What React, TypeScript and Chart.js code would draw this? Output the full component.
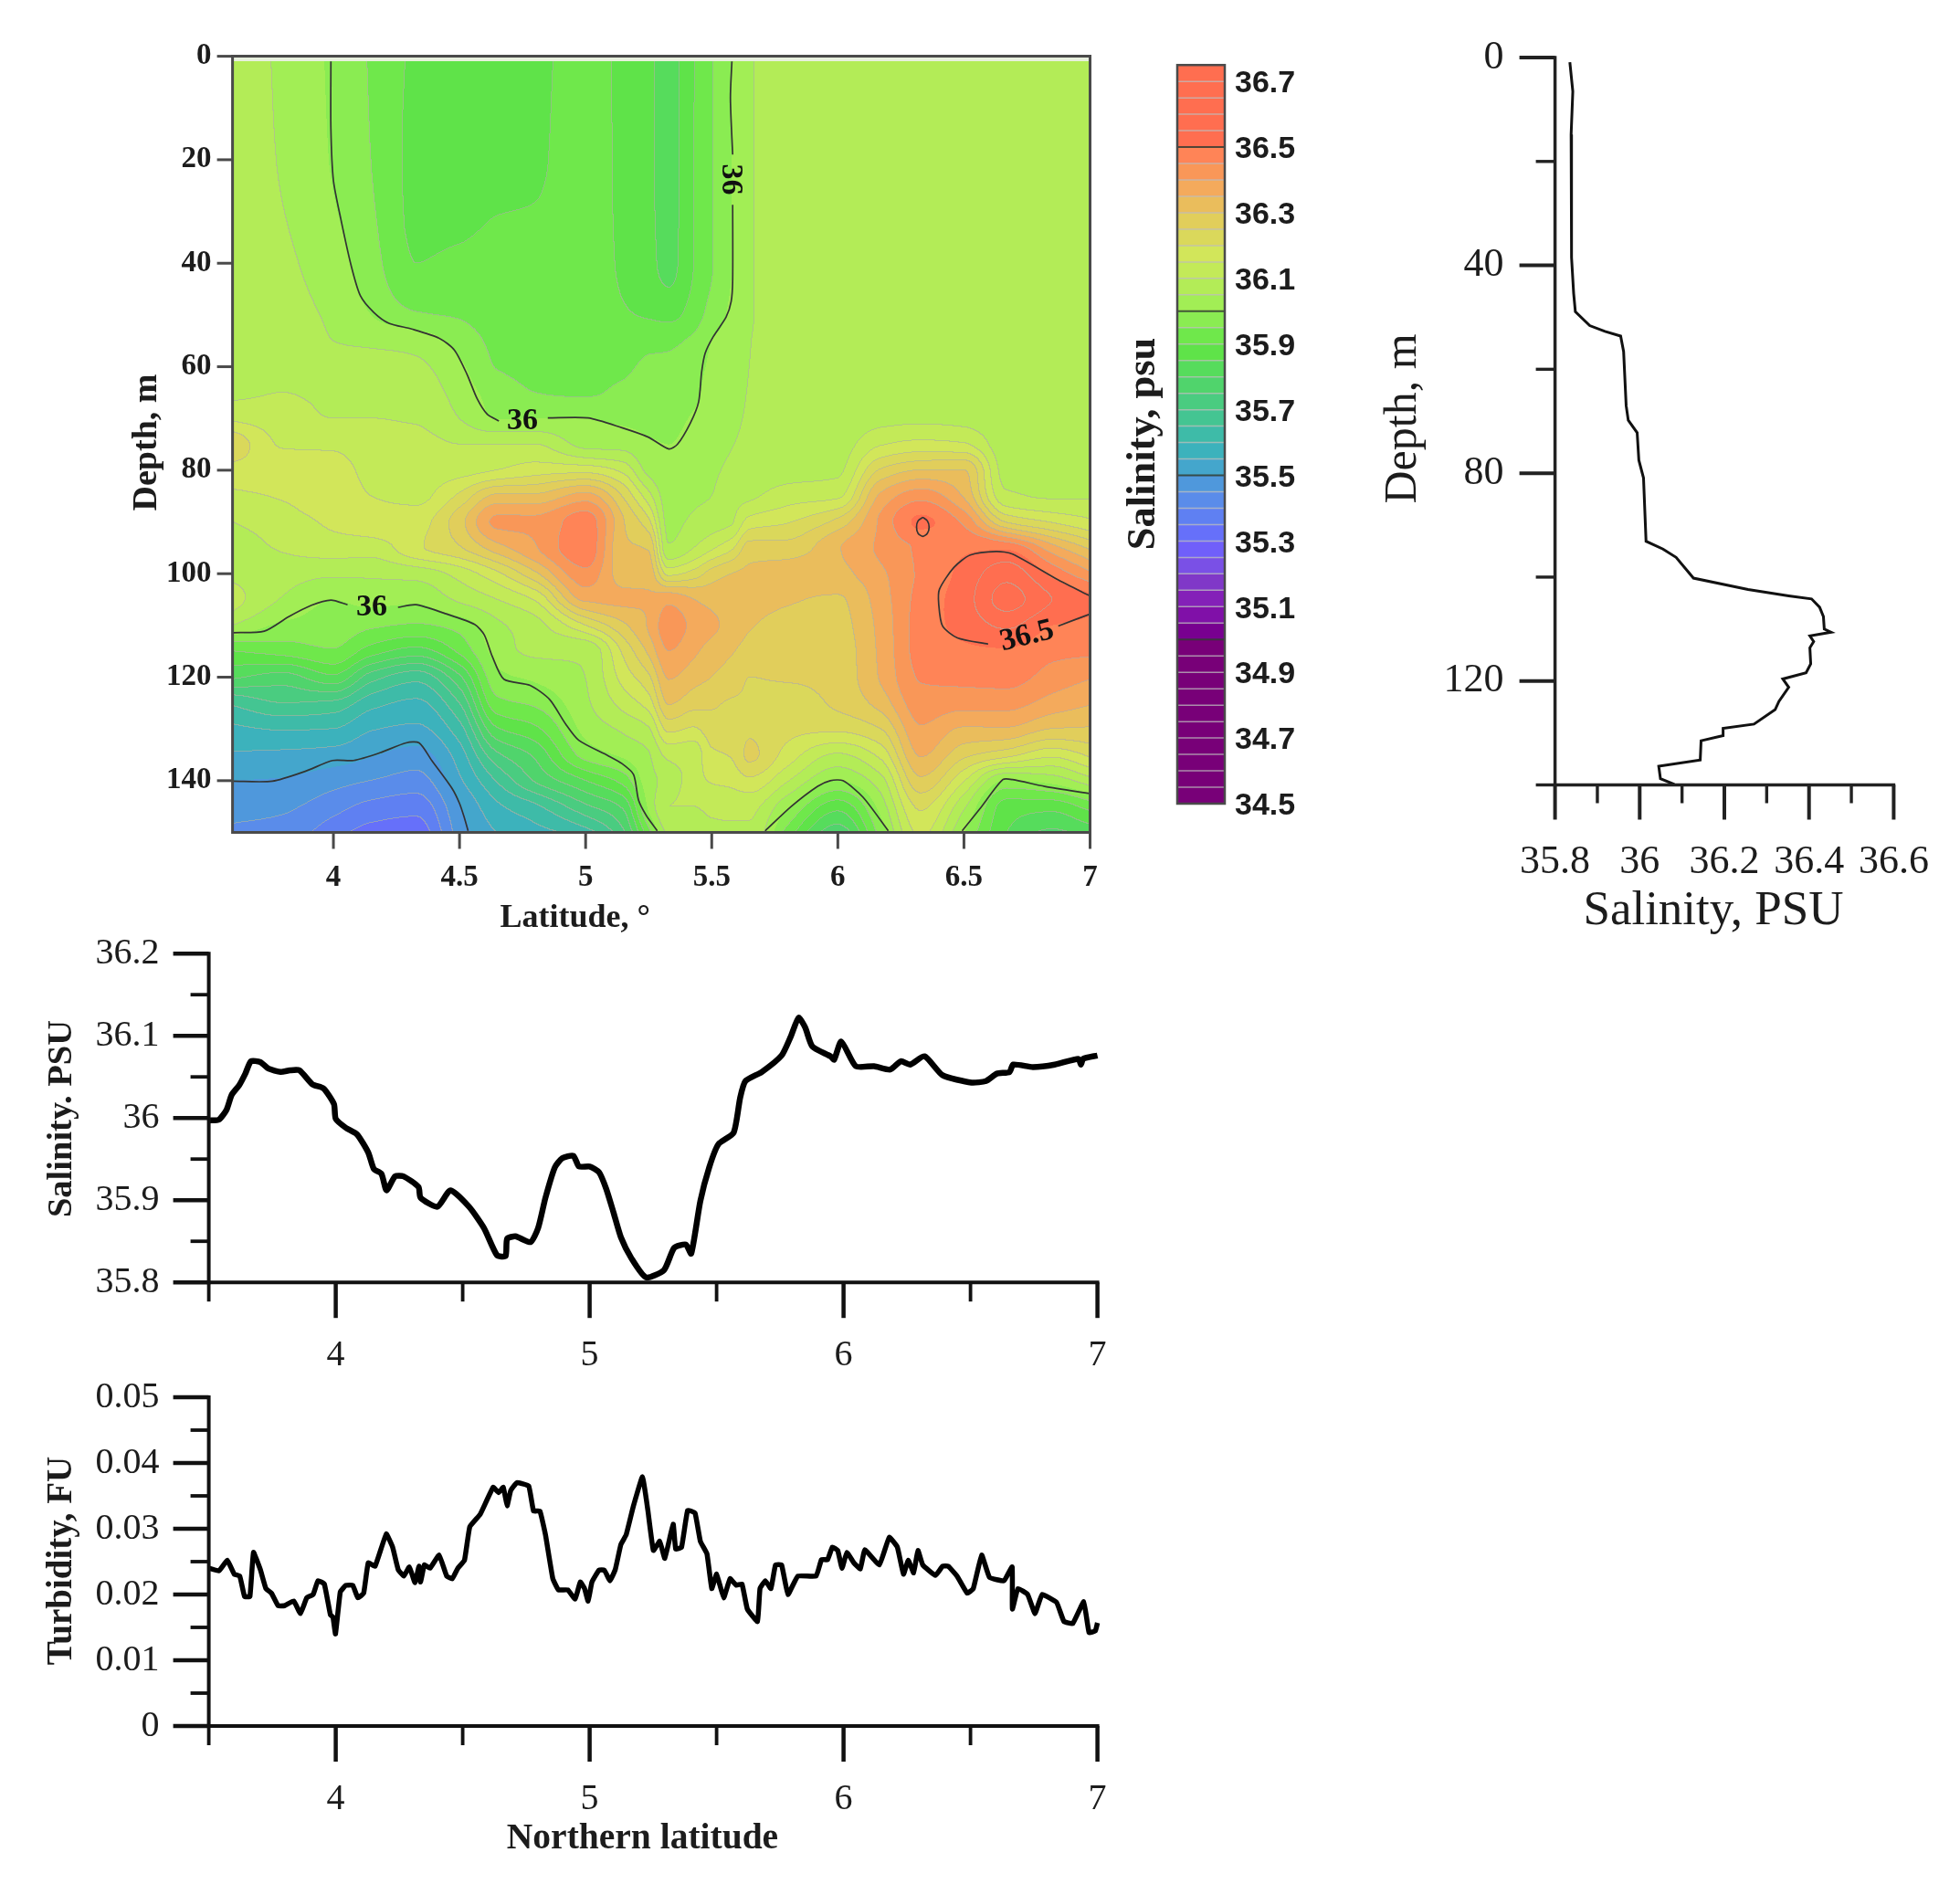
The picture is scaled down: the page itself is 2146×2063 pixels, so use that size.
import React, { useEffect, useRef } from "react";
import { Chart, registerables } from "chart.js";

Chart.register(...registerables);

const SERIF = '"Liberation Serif"';
const SANS = '"Liberation Sans"';
const INK = "#1c1c1c";

/* ---------- section: salinity by latitude (columns) and depth (rows) ---------- */
const sectionDepths = [0, 20, 40, 50, 55, 60, 65, 70, 75, 80, 85, 90, 95, 100, 105, 110, 115, 120, 125, 130, 135, 140, 145, 150];
const sectionLatitudes = [3.6, 3.8, 4.0, 4.15, 4.33, 4.5, 4.65, 4.8, 5.0, 5.15, 5.25, 5.33, 5.43, 5.5, 5.58, 5.65, 5.8, 6.0, 6.17, 6.33, 6.5, 6.67, 6.85, 7.0];

const lat360 = [36.08, 36.08, 36.08, 36.08, 36.08, 36.08, 36.09, 36.14, 36.24, 36.18, 36.14, 36.1, 36.08, 36.09, 36.12, 36.05, 35.9, 35.81, 35.66, 35.59, 35.545, 35.5, 35.47, 35.44];
const lat380 = [36.04, 36.045, 36.06, 36.07, 36.08, 36.085, 36.1, 36.12, 36.145, 36.17, 36.155, 36.125, 36.105, 36.075, 36.045, 35.99, 35.92, 35.78, 35.7, 35.605, 35.54, 35.495, 35.46, 35.43];
const lat400 = [35.99, 35.995, 36.02, 36.04, 36.05, 36.07, 36.09, 36.1, 36.14, 36.17, 36.175, 36.16, 36.125, 36.06, 36.0, 35.98, 35.945, 35.84, 35.69, 35.6, 35.53, 35.47, 35.42, 35.37];
const lat415 = [35.945, 35.95, 35.97, 36.0, 36.04, 36.07, 36.09, 36.1, 36.12, 36.135, 36.15, 36.175, 36.125, 36.06, 36.015, 35.96, 35.875, 35.725, 35.62, 35.555, 35.505, 35.45, 35.385, 35.33];
const lat433 = [35.89, 35.885, 35.9, 35.955, 36.03, 36.06, 36.08, 36.095, 36.115, 36.125, 36.135, 36.18, 36.19, 36.07, 36.01, 35.945, 35.83, 35.67, 35.59, 35.54, 35.48, 35.43, 35.37, 35.32];
const lat450 = [35.87, 35.87, 35.91, 35.945, 35.98, 36.01, 36.03, 36.05, 36.1, 36.13, 36.21, 36.28, 36.245, 36.12, 36.06, 35.97, 35.91, 35.79, 35.7, 35.63, 35.575, 35.54, 35.495, 35.47];
const lat465 = [35.875, 35.88, 35.92, 35.93, 35.94, 35.948, 35.975, 35.998, 36.1, 36.15, 36.31, 36.41, 36.33, 36.19, 36.1, 36.04, 36.02, 35.985, 35.935, 35.845, 35.74, 35.655, 35.59, 35.55];
const lat480 = [35.885, 35.89, 35.92, 35.93, 35.935, 35.94, 35.95, 36.0, 36.1, 36.175, 36.31, 36.41, 36.395, 36.29, 36.155, 36.08, 36.06, 36.01, 35.96, 35.89, 35.81, 35.755, 35.64, 35.58];
const lat500 = [35.925, 35.93, 35.93, 35.93, 35.935, 35.94, 35.945, 36.0, 36.035, 36.18, 36.37, 36.48, 36.49, 36.435, 36.36, 36.2, 36.06, 36.05, 36.04, 36.015, 35.97, 35.85, 35.74, 35.63];
const lat515 = [35.885, 35.885, 35.89, 35.905, 35.915, 35.94, 35.96, 35.99, 36.03, 36.135, 36.245, 36.305, 36.31, 36.33, 36.36, 36.29, 36.21, 36.17, 36.12, 36.06, 36.01, 35.92, 35.81, 35.74];
const lat525 = [35.86, 35.86, 35.865, 35.895, 35.935, 35.96, 35.975, 35.99, 36.005, 36.035, 36.12, 36.215, 36.295, 36.33, 36.355, 36.355, 36.31, 36.24, 36.175, 36.095, 36.045, 36.03, 36.01, 35.93];
const lat533 = [35.83, 35.83, 35.835, 35.885, 35.94, 35.96, 35.975, 35.99, 36.0, 36.01, 36.025, 36.035, 36.055, 36.185, 36.385, 36.43, 36.4, 36.355, 36.305, 36.215, 36.115, 36.07, 36.1, 36.06];
const lat543 = [35.897, 35.9, 35.9, 35.925, 35.96, 35.98, 35.99, 36.005, 36.015, 36.025, 36.04, 36.06, 36.1, 36.22, 36.35, 36.385, 36.36, 36.32, 36.27, 36.195, 36.12, 36.125, 36.1, 36.08];
const lat550 = [35.945, 35.945, 35.945, 35.97, 36.0, 36.01, 36.02, 36.025, 36.03, 36.04, 36.05, 36.075, 36.14, 36.27, 36.335, 36.36, 36.33, 36.3, 36.26, 36.225, 36.19, 36.155, 36.11, 36.09];
const lat558 = [36.0, 36.0, 36.0, 36.012, 36.02, 36.028, 36.035, 36.04, 36.048, 36.06, 36.08, 36.095, 36.19, 36.3, 36.335, 36.335, 36.305, 36.275, 36.245, 36.225, 36.205, 36.165, 36.115, 36.09];
const lat565 = [36.045, 36.045, 36.045, 36.045, 36.048, 36.05, 36.052, 36.055, 36.06, 36.07, 36.09, 36.17, 36.27, 36.31, 36.32, 36.305, 36.28, 36.25, 36.245, 36.245, 36.26, 36.19, 36.115, 36.09];
const lat580 = [36.07, 36.07, 36.07, 36.07, 36.07, 36.07, 36.07, 36.07, 36.07, 36.08, 36.125, 36.195, 36.27, 36.32, 36.305, 36.285, 36.27, 36.255, 36.23, 36.215, 36.18, 36.105, 36.01, 35.93];
const lat600 = [36.07, 36.07, 36.07, 36.07, 36.07, 36.07, 36.07, 36.07, 36.075, 36.09, 36.14, 36.265, 36.345, 36.335, 36.295, 36.285, 36.275, 36.27, 36.26, 36.21, 36.095, 36.0, 35.87, 35.77];
const lat617 = [36.07, 36.07, 36.07, 36.07, 36.07, 36.07, 36.07, 36.085, 36.145, 36.255, 36.36, 36.41, 36.41, 36.39, 36.375, 36.365, 36.36, 36.355, 36.32, 36.25, 36.165, 36.08, 36.02, 35.97];
const lat633 = [36.07, 36.07, 36.07, 36.07, 36.07, 36.07, 36.07, 36.09, 36.165, 36.3, 36.43, 36.51, 36.46, 36.46, 36.47, 36.475, 36.47, 36.455, 36.43, 36.395, 36.355, 36.29, 36.21, 36.16];
const lat650 = [36.07, 36.07, 36.07, 36.07, 36.07, 36.07, 36.07, 36.085, 36.155, 36.3, 36.345, 36.44, 36.49, 36.515, 36.525, 36.515, 36.49, 36.465, 36.42, 36.345, 36.265, 36.155, 36.06, 36.0];
const lat667 = [36.07, 36.07, 36.07, 36.07, 36.07, 36.07, 36.07, 36.07, 36.07, 36.08, 36.11, 36.245, 36.49, 36.58, 36.62, 36.56, 36.495, 36.47, 36.42, 36.345, 36.22, 35.995, 35.88, 35.85];
const lat685 = [36.07, 36.07, 36.07, 36.07, 36.07, 36.07, 36.07, 36.07, 36.07, 36.08, 36.095, 36.195, 36.37, 36.485, 36.55, 36.5, 36.465, 36.43, 36.38, 36.3, 36.165, 36.02, 35.87, 35.79];
const lat700 = [36.07, 36.07, 36.07, 36.07, 36.07, 36.07, 36.07, 36.07, 36.07, 36.075, 36.095, 36.16, 36.29, 36.41, 36.51, 36.49, 36.46, 36.405, 36.355, 36.295, 36.21, 36.08, 35.92, 35.82];

const sectionColumns = [lat360, lat380, lat400, lat415, lat433, lat450, lat465, lat480, lat500, lat515, lat525, lat533, lat543, lat550, lat558, lat565, lat580, lat600, lat617, lat633, lat650, lat667, lat685, lat700];

/* ---------- black isolines [latitude, depth] ---------- */
const iso36UpperA: number[][] = [[3.99, 1], [3.99, 14], [4.0, 24], [4.03, 31.6], [4.07, 40.4], [4.107, 46.3], [4.16, 49.5], [4.22, 51.6], [4.31, 52.7], [4.42, 54.5], [4.48, 56.8], [4.53, 61.5], [4.57, 66.2], [4.61, 69.2], [4.656, 70.5]];
const iso36UpperB: number[][] = [[4.85, 69.9], [5.01, 69.9], [5.144, 71.8], [5.248, 73.6], [5.33, 75.9], [5.364, 75], [5.415, 70.9], [5.448, 66.8], [5.46, 61], [5.474, 57.4], [5.506, 54.2], [5.557, 50.4], [5.577, 47.4], [5.583, 43.3], [5.583, 28.7]];
const iso36UpperC: number[][] = [[5.583, 19], [5.574, 8.1], [5.58, 1]];
const iso36LowerA: number[][] = [[3.6, 111.4], [3.726, 111.1], [3.823, 108.3], [3.913, 106.1], [3.99, 105.1], [4.056, 106]];
const iso36LowerB: number[][] = [[4.256, 106.5], [4.327, 106], [4.443, 107.7], [4.56, 109.8], [4.598, 111.8], [4.63, 116], [4.676, 120.4], [4.78, 121.6], [4.857, 124.3], [4.92, 129], [4.973, 132.2], [5.09, 135.2], [5.144, 136.7], [5.19, 138.8], [5.21, 143.8], [5.24, 146.7], [5.284, 149.7]];
const iso36Mound: number[][] = [[5.712, 149.7], [5.815, 145], [5.92, 141.1], [5.97, 140], [6.02, 140], [6.1, 143.2], [6.2, 149.7]];
const iso36Right: number[][] = [[6.493, 149.7], [6.57, 145], [6.654, 139.8], [6.693, 139.8], [6.82, 141.1], [7, 142.5]];
const iso355: number[][] = [[3.6, 140.1], [3.758, 140.1], [3.888, 138.2], [3.997, 136.1], [4.08, 136.1], [4.185, 134.6], [4.288, 132.7], [4.34, 132.7], [4.39, 136.1], [4.469, 141.4], [4.5, 144.4], [4.52, 147.3], [4.534, 149.7]];
const iso365Ring: number[][] = [[6.337, 89.1], [6.355, 89.8], [6.362, 91], [6.355, 92.2], [6.337, 92.8], [6.318, 92.2], [6.312, 91], [6.318, 89.8], [6.337, 89.1]];
const iso365Core: number[][] = [[7, 104.3], [6.874, 101.2], [6.693, 96.2], [6.628, 95.7], [6.525, 96.4], [6.46, 98.8], [6.403, 103], [6.4, 105.9], [6.415, 110.1], [6.474, 112.4], [6.596, 113.6]];
const iso365Tail: number[][] = [[6.874, 110.1], [7, 107.8]];
const isolines = [iso36UpperA, iso36UpperB, iso36UpperC, iso36LowerA, iso36LowerB, iso36Mound, iso36Right, iso355, iso365Ring, iso365Core, iso365Tail];

const isolineLabels = [
  { text: "36", lat: 4.749, depth: 70.6, angle: 0 },
  { text: "36", lat: 4.152, depth: 106.6, angle: 0 },
  { text: "36", lat: 5.573, depth: 23.8, angle: 90 },
  { text: "36.5", lat: 6.75, depth: 112.1, angle: -14 },
];

/* ---------- colour scale, top band first ---------- */
const bandColors = [
  "#FF6E50", "#FF6E50", "#FF6E50", "#FF6E50", "#FF6E50",
  "#FF8457", "#F99758", "#F4AA5C", "#EABD5C", "#E1CE5B", "#DAD85B", "#D2E65A", "#C3EA58", "#B3EC57", "#A2EE55",
  "#8AEC52", "#6FE84B", "#5FE349", "#56DC5C", "#50D46C", "#4ACC80", "#44C592", "#3EBBA8", "#3CB2BC", "#44A6CC",
  "#4F98DC", "#5A8CEA", "#5F80F2", "#6670FA", "#705FFA", "#7A50E6", "#8038C8", "#8420B8", "#8010A8", "#780090",
  "#780078", "#780078", "#780078", "#780078", "#780078", "#780078", "#780078", "#780078", "#780078", "#780078",
];
const scaleBottom = 34.5;
const scaleTop = 36.75;
const scaleStep = 0.05;
const colorbarTicks = [34.5, 34.7, 34.9, 35.1, 35.3, 35.5, 35.7, 35.9, 36.1, 36.3, 36.5, 36.7];
const colorbarDarkLines = [35, 35.5, 36, 36.5];

/* ---------- vertical salinity profile [salinity, depth] ---------- */
const profileSalinity = [35.835, 35.842, 35.838, 35.839, 35.839, 35.844, 35.848, 35.882, 35.918, 35.955, 35.962, 35.968, 35.973, 35.994, 35.998, 36.009, 36.015, 36.055, 36.086, 36.127, 36.256, 36.352, 36.406, 36.425, 36.434, 36.436, 36.452, 36.402, 36.411, 36.402, 36.404, 36.393, 36.338, 36.352, 36.329, 36.32, 36.27, 36.197, 36.197, 36.145, 36.143, 36.045, 36.049, 36.082];
const profileDepth = [0.9, 6.5, 14.8, 28.7, 38.5, 45.4, 48.9, 51.6, 52.7, 53.6, 56.6, 67, 69.8, 72.2, 77.5, 80.9, 93.1, 94.6, 96.2, 100.2, 102.4, 103.6, 104.2, 105.8, 107.6, 110, 110.6, 111.3, 112.4, 113.6, 116.7, 118.4, 119.6, 121.2, 123.9, 125.5, 128.3, 129.1, 130.5, 131.5, 135.2, 136.4, 138.8, 139.9];

/* ---------- surface salinity along latitude ---------- */
const surfaceLat = [3.5, 3.54, 3.57, 3.59, 3.62, 3.644, 3.666, 3.703, 3.735, 3.783, 3.82, 3.857, 3.908, 3.952, 3.993, 4.0, 4.04, 4.084, 4.128, 4.15, 4.18, 4.2, 4.234, 4.267, 4.326, 4.334, 4.4, 4.452, 4.525, 4.584, 4.635, 4.669, 4.675, 4.708, 4.767, 4.797, 4.826, 4.863, 4.892, 4.936, 4.958, 5.0, 5.037, 5.065, 5.094, 5.123, 5.165, 5.222, 5.293, 5.333, 5.379, 5.4, 5.436, 5.471, 5.507, 5.567, 5.593, 5.614, 5.678, 5.756, 5.792, 5.823, 5.849, 5.877, 5.949, 5.963, 5.991, 6.048, 6.12, 6.184, 6.226, 6.262, 6.319, 6.39, 6.504, 6.561, 6.604, 6.654, 6.668, 6.746, 6.832, 6.925, 6.935, 6.944, 7.0];
const surfaceSalinity = [35.997, 35.998, 36.01, 36.028, 36.04, 36.054, 36.069, 36.068, 36.06, 36.056, 36.058, 36.058, 36.041, 36.036, 36.017, 35.999, 35.988, 35.98, 35.958, 35.938, 35.932, 35.912, 35.929, 35.929, 35.916, 35.903, 35.892, 35.912, 35.892, 35.866, 35.833, 35.832, 35.853, 35.856, 35.849, 35.866, 35.903, 35.94, 35.951, 35.954, 35.941, 35.941, 35.934, 35.914, 35.885, 35.855, 35.829, 35.806, 35.815, 35.842, 35.846, 35.835, 35.899, 35.94, 35.968, 35.982, 36.025, 36.045, 36.056, 36.076, 36.099, 36.122, 36.11, 36.087, 36.075, 36.071, 36.093, 36.063, 36.063, 36.059, 36.069, 36.065, 36.075, 36.052, 36.043, 36.045, 36.054, 36.056, 36.065, 36.062, 36.065, 36.072, 36.065, 36.072, 36.076];

/* ---------- turbidity along latitude ---------- */
const turbidityLat = [3.5, 3.54, 3.573, 3.6, 3.622, 3.641, 3.662, 3.676, 3.703, 3.725, 3.747, 3.773, 3.798, 3.835, 3.861, 3.886, 3.911, 3.93, 3.955, 3.979, 3.989, 3.999, 4.018, 4.04, 4.067, 4.087, 4.11, 4.128, 4.155, 4.199, 4.224, 4.246, 4.268, 4.29, 4.312, 4.328, 4.334, 4.349, 4.371, 4.407, 4.437, 4.459, 4.481, 4.507, 4.528, 4.569, 4.62, 4.642, 4.66, 4.675, 4.689, 4.713, 4.76, 4.779, 4.804, 4.826, 4.855, 4.877, 4.914, 4.943, 4.963, 4.98, 4.994, 5.009, 5.037, 5.058, 5.08, 5.101, 5.123, 5.144, 5.172, 5.208, 5.229, 5.251, 5.276, 5.296, 5.329, 5.339, 5.362, 5.386, 5.415, 5.436, 5.462, 5.481, 5.5, 5.528, 5.553, 5.578, 5.6, 5.621, 5.661, 5.671, 5.692, 5.714, 5.732, 5.756, 5.781, 5.82, 5.892, 5.913, 5.937, 5.956, 5.977, 5.994, 6.013, 6.041, 6.066, 6.084, 6.141, 6.18, 6.212, 6.236, 6.255, 6.276, 6.293, 6.312, 6.362, 6.39, 6.412, 6.447, 6.487, 6.511, 6.544, 6.575, 6.632, 6.664, 6.665, 6.687, 6.725, 6.754, 6.782, 6.839, 6.868, 6.903, 6.946, 6.967, 6.992, 7.0];
const turbidityValue = [0.024, 0.0236, 0.0252, 0.0231, 0.0228, 0.0197, 0.0197, 0.0264, 0.0238, 0.0209, 0.0202, 0.0183, 0.0183, 0.019, 0.0171, 0.0195, 0.02, 0.0221, 0.0216, 0.0169, 0.0166, 0.014, 0.0204, 0.0214, 0.0214, 0.0195, 0.0202, 0.0248, 0.0243, 0.0292, 0.0272, 0.0238, 0.0228, 0.0242, 0.0218, 0.0243, 0.0219, 0.0245, 0.024, 0.026, 0.0228, 0.0224, 0.024, 0.0252, 0.0303, 0.0322, 0.0363, 0.0355, 0.0363, 0.0335, 0.0358, 0.037, 0.0365, 0.0327, 0.0327, 0.0291, 0.0224, 0.0207, 0.0207, 0.0193, 0.0219, 0.0209, 0.019, 0.0219, 0.0237, 0.0237, 0.0221, 0.0238, 0.0276, 0.0291, 0.0334, 0.0379, 0.0329, 0.0267, 0.0281, 0.0255, 0.0307, 0.0269, 0.0272, 0.0328, 0.0324, 0.0281, 0.0262, 0.0209, 0.0231, 0.0195, 0.0224, 0.0214, 0.0216, 0.0178, 0.0159, 0.0209, 0.0221, 0.0209, 0.0245, 0.0245, 0.02, 0.0228, 0.0228, 0.0253, 0.0253, 0.0272, 0.0267, 0.024, 0.0264, 0.0248, 0.0239, 0.0268, 0.0245, 0.0287, 0.0272, 0.0231, 0.0252, 0.0233, 0.0267, 0.0245, 0.0229, 0.0243, 0.0243, 0.0228, 0.0202, 0.0209, 0.026, 0.0226, 0.0221, 0.0242, 0.0178, 0.0209, 0.02, 0.0171, 0.02, 0.0188, 0.0159, 0.0156, 0.0189, 0.0142, 0.0145, 0.0157];

/* ---------- tick values ---------- */
const sectionLatTicks = [4, 4.5, 5, 5.5, 6, 6.5, 7];
const sectionDepthTicks = [0, 20, 40, 60, 80, 100, 120, 140];
const profileDepthMajor = [0, 40, 80, 120];
const profileDepthMinor = [20, 60, 100, 140];
const profileSalMajor = [35.8, 36, 36.2, 36.4, 36.6];
const profileSalMinor = [35.9, 36.1, 36.3, 36.5];
const latMajor = [4, 5, 6, 7];
const latMinor = [3.5, 4.5, 5.5, 6.5];
const surfaceMajor = [35.8, 35.9, 36, 36.1, 36.2];
const surfaceMinor = [35.85, 35.95, 36.05, 36.15];
const turbidityMajor = [0, 0.01, 0.02, 0.03, 0.04, 0.05];
const turbidityMinor = [0.005, 0.015, 0.025, 0.035, 0.045];

/* ---------- helpers ---------- */
type Rect = { x: number; y: number; w: number; h: number };
type Area = { l: number; r: number; t: number; b: number };

function slopesOf(xs: number[], ys: number[]): number[] {
  const n = xs.length;
  const d: number[] = [];
  for (let i = 0; i < n - 1; i++) d.push((ys[i + 1] - ys[i]) / (xs[i + 1] - xs[i]));
  const m = new Array(n).fill(0);
  m[0] = d[0];
  m[n - 1] = d[n - 2];
  for (let i = 1; i < n - 1; i++) {
    if (d[i - 1] * d[i] <= 0) m[i] = 0;
    else {
      const h0 = xs[i] - xs[i - 1];
      const h1 = xs[i + 1] - xs[i];
      const w1 = 2 * h1 + h0;
      const w2 = h1 + 2 * h0;
      m[i] = (w1 + w2) / (w1 / d[i - 1] + w2 / d[i]);
    }
  }
  return m;
}

function hermite(xs: number[], ys: number[], ms: number[], x: number): number {
  let i = 0;
  while (i < xs.length - 2 && x > xs[i + 1]) i++;
  const h = xs[i + 1] - xs[i];
  const t = (x - xs[i]) / h;
  const t2 = t * t;
  const t3 = t2 * t;
  return (2 * t3 - 3 * t2 + 1) * ys[i] + (t3 - 2 * t2 + t) * h * ms[i] + (-2 * t3 + 3 * t2) * ys[i + 1] + (t3 - t2) * h * ms[i + 1];
}

function hexToRgb(hex: string): number[] {
  return [parseInt(hex.slice(1, 3), 16), parseInt(hex.slice(3, 5), 16), parseInt(hex.slice(5, 7), 16)];
}

const sectionFill = {
  id: "sectionFill",
  beforeDatasetsDraw(chart: any) {
    const { ctx, chartArea: a, scales } = chart;
    const left = Math.round(a.left);
    const top = Math.round(a.top);
    const w = Math.round(a.right) - left;
    const h = Math.round(a.bottom) - top;
    const off = document.createElement("canvas");
    off.width = w;
    off.height = h;
    const octx = off.getContext("2d") as CanvasRenderingContext2D;
    const img = octx.createImageData(w, h);
    const bands = new Int16Array(w * h);
    const lats: number[] = [];
    for (let x = 0; x < w; x++) lats.push(scales.x.getValueForPixel(left + x + 0.5));
    const colSlopes = sectionColumns.map((c) => slopesOf(sectionDepths, c));
    const nBands = bandColors.length;
    for (let y = 0; y < h; y++) {
      const depth = scales.y.getValueForPixel(top + y + 0.5);
      const row = sectionColumns.map((c, j) => hermite(sectionDepths, c, colSlopes[j], depth));
      const rowSlopes = slopesOf(sectionLatitudes, row);
      for (let x = 0; x < w; x++) {
        const v = depth < 1 ? -1 : hermite(sectionLatitudes, row, rowSlopes, lats[x]);
        bands[y * w + x] = v < 0 ? -1 : Math.max(0, Math.min(nBands - 1, Math.floor((v - scaleBottom) / scaleStep)));
      }
    }
    const rgb = bandColors.map(hexToRgb).reverse();
    const plain = [20, 30, 40];
    for (let y = 0; y < h; y++) {
      for (let x = 0; x < w; x++) {
        const k = y * w + x;
        const b = bands[k];
        const p = k * 4;
        if (b < 0) {
          img.data[p] = 232; img.data[p + 1] = 240; img.data[p + 2] = 222; img.data[p + 3] = 255;
          continue;
        }
        let [r, g, bl] = rgb[b];
        const nbR = x + 1 < w ? bands[k + 1] : b;
        const nbD = y + 1 < h ? bands[k + w] : b;
        const edge = (nb: number) => nb >= 0 && nb !== b && !plain.includes(Math.max(nb, b));
        if (edge(nbR) || edge(nbD)) {
          r = r * 0.4 + 175 * 0.6;
          g = g * 0.4 + 175 * 0.6;
          bl = bl * 0.4 + 165 * 0.6;
        }
        img.data[p] = r; img.data[p + 1] = g; img.data[p + 2] = bl; img.data[p + 3] = 255;
      }
    }
    octx.putImageData(img, 0, 0);
    ctx.save();
    ctx.beginPath();
    ctx.rect(a.left, a.top, a.right - a.left, a.bottom - a.top);
    ctx.clip();
    ctx.filter = "blur(0.5px)";
    ctx.drawImage(off, left, top);
    ctx.restore();
  },
};

const isolineLabelPlugin = {
  id: "isolineLabels",
  afterDatasetsDraw(chart: any) {
    const { ctx, scales } = chart;
    ctx.save();
    ctx.fillStyle = "#111";
    ctx.font = `bold 34px ${SERIF}`;
    ctx.textAlign = "center";
    ctx.textBaseline = "middle";
    isolineLabels.forEach((l) => {
      ctx.save();
      ctx.translate(scales.x.getPixelForValue(l.lat), scales.y.getPixelForValue(l.depth));
      ctx.rotate((l.angle * Math.PI) / 180);
      ctx.fillText(l.text, 0, 0);
      ctx.restore();
    });
    ctx.restore();
  },
};

/* draws axis lines and long/short ticks through the scales */
function axesPlugin(o: { xMajor: number[]; xMinor: number[]; yMajor: number[]; yMinor: number[]; xLen: number[]; yLen: number[]; axis: number; tick: number; color: string; frame?: boolean }) {
  return {
    id: "axesPlugin",
    afterDatasetsDraw(chart: any) {
      const { ctx, chartArea: a, scales } = chart;
      ctx.save();
      ctx.strokeStyle = o.color;
      ctx.lineCap = "butt";
      const seg = (x0: number, y0: number, x1: number, y1: number, w: number) => {
        ctx.lineWidth = w;
        ctx.beginPath();
        ctx.moveTo(x0, y0);
        ctx.lineTo(x1, y1);
        ctx.stroke();
      };
      seg(a.left, a.top - o.axis / 2, a.left, a.bottom + o.axis / 2, o.axis);
      seg(a.left, a.bottom, a.right + o.axis / 2, a.bottom, o.axis);
      if (o.frame) {
        seg(a.left, a.top, a.right, a.top, o.axis);
        seg(a.right, a.top - o.axis / 2, a.right, a.bottom, o.axis);
      }
      o.yMajor.forEach((v) => { const p = scales.y.getPixelForValue(v); seg(a.left - o.yLen[0], p, a.left, p, o.tick); });
      o.yMinor.forEach((v) => { const p = scales.y.getPixelForValue(v); seg(a.left - o.yLen[1], p, a.left, p, o.tick * 0.85); });
      o.xMajor.forEach((v) => { const p = scales.x.getPixelForValue(v); seg(p, a.bottom, p, a.bottom + o.xLen[0], o.tick); });
      o.xMinor.forEach((v) => { const p = scales.x.getPixelForValue(v); seg(p, a.bottom, p, a.bottom + o.xLen[1], o.tick * 0.85); });
      ctx.restore();
    },
  };
}

/* axis titles, given in page pixels */
function titlesPlugin(rect: Rect, items: { text: string; x: number; y: number; rot: number; font: string }[]) {
  return {
    id: "titlesPlugin",
    afterDraw(chart: any) {
      const { ctx } = chart;
      ctx.save();
      ctx.fillStyle = INK;
      ctx.textAlign = "center";
      ctx.textBaseline = "middle";
      items.forEach((t) => {
        ctx.save();
        ctx.translate(t.x - rect.x, t.y - rect.y);
        ctx.rotate((t.rot * Math.PI) / 180);
        ctx.font = t.font;
        ctx.fillText(t.text, 0, 0);
        ctx.restore();
      });
      ctx.restore();
    },
  };
}

function axisScale(o: { values: number[]; min: number; max: number; horizontal: boolean; size: number; font: any; padding: number; reverse?: boolean; fmt?: (v: number) => string }) {
  return {
    type: "linear",
    min: o.min,
    max: o.max,
    reverse: !!o.reverse,
    afterBuildTicks(s: any) { s.ticks = o.values.map((value) => ({ value })); },
    afterFit(s: any) { if (o.horizontal) s.height = o.size; else s.width = o.size; },
    grid: { display: false, drawTicks: false },
    border: { display: false },
    ticks: {
      autoSkip: false,
      maxRotation: 0,
      minRotation: 0,
      padding: o.padding,
      color: INK,
      font: o.font,
      callback: o.fmt || ((v: any) => String(+Number(v).toFixed(3))),
    },
  };
}

function baseOptions(rect: Rect, area: Area, scales: any) {
  return {
    responsive: false,
    maintainAspectRatio: false,
    animation: false,
    devicePixelRatio: 1,
    layout: { padding: { left: 0, top: area.t - rect.y, right: rect.x + rect.w - area.r, bottom: 0 } },
    plugins: { legend: { display: false }, tooltip: { enabled: false }, title: { display: false } },
    scales,
  };
}

/* ---------- panels ---------- */
const sectionRect: Rect = { x: 100, y: 0, w: 1160, h: 1030 };
const sectionArea: Area = { l: 254.6, r: 1193.5, t: 61.6, b: 911.5 };
const barRect: Rect = { x: 1220, y: 20, w: 280, h: 900 };
const barArea: Area = { l: 1289, r: 1341, t: 71.2, b: 880 };
const profileRect: Rect = { x: 1500, y: -40, w: 740, h: 1080 };
const profileArea: Area = { l: 1702.6, r: 2073.4, t: 63, b: 859.5 };
const surfaceRect: Rect = { x: 20, y: 950, w: 1300, h: 580 };
const surfaceArea: Area = { l: 228.6, r: 1201.6, t: 1044.2, b: 1404.2 };
const turbRect: Rect = { x: 20, y: 1440, w: 1300, h: 623 };
const turbArea: Area = { l: 228.6, r: 1201.6, t: 1530, b: 1890 };

const tickBold = { family: SERIF, size: 33, weight: "bold" as const };
const tickPlain = { family: SERIF, size: 40 };
const colorbarLabelNudge = 0.008;

const panels = [
  {
    rect: sectionRect,
    config: () => ({
      type: "scatter",
      data: {
        datasets: isolines.map((line) => ({
          data: line.map((p) => ({ x: p[0], y: p[1] })),
          showLine: true,
          pointRadius: 0,
          borderColor: "#333",
          borderWidth: 1.7,
          tension: 0.25,
        })),
      },
      options: baseOptions(sectionRect, sectionArea, {
        x: axisScale({ values: sectionLatTicks, min: 3.6, max: 7, horizontal: true, size: sectionRect.y + sectionRect.h - sectionArea.b, font: tickBold, padding: 30 }),
        y: axisScale({ values: sectionDepthTicks, min: 0, max: 150, horizontal: false, size: sectionArea.l - sectionRect.x, font: tickBold, padding: 23, reverse: true }),
      }),
      plugins: [
        sectionFill,
        axesPlugin({ xMajor: sectionLatTicks, xMinor: [], yMajor: sectionDepthTicks, yMinor: [], xLen: [18, 0], yLen: [17, 0], axis: 3, tick: 3, color: "#4a4a4a", frame: true }),
        isolineLabelPlugin,
        titlesPlugin(sectionRect, [
          { text: "Depth, m", x: 161.5, y: 484.5, rot: -90, font: `bold 38px ${SERIF}` },
          { text: "Latitude, °", x: 629.6, y: 1005.5, rot: 0, font: `bold 36px ${SERIF}` },
        ]),
      ],
    }),
  },
  {
    rect: barRect,
    config: () => ({
      type: "bar",
      data: {
        labels: ["Salinity"],
        datasets: bandColors.map((color, i) => ({
          data: [[scaleTop - (i + 1) * scaleStep, scaleTop - i * scaleStep]],
          backgroundColor: color,
          borderWidth: 0,
          barPercentage: 1,
          categoryPercentage: 1,
          grouped: false,
          yAxisID: "bands",
        })),
      },
      options: {
        responsive: false,
        maintainAspectRatio: false,
        animation: false,
        devicePixelRatio: 1,
        layout: { padding: { left: barArea.l - barRect.x, top: barArea.t - barRect.y, right: 0, bottom: barRect.y + barRect.h - barArea.b } },
        plugins: { legend: { display: false }, tooltip: { enabled: false }, title: { display: false } },
        scales: {
          x: { display: false },
          bands: { type: "linear", display: false, min: scaleBottom, max: scaleTop },
          y: {
            ...axisScale({ values: colorbarTicks, min: scaleBottom + colorbarLabelNudge, max: scaleTop + colorbarLabelNudge, horizontal: false, size: barRect.x + barRect.w - barArea.r, font: { family: SANS, size: 34, weight: "bold" }, padding: 11, fmt: (v: number) => Number(v).toFixed(1) }),
            position: "right",
          },
        },
      },
      plugins: [
        {
          id: "barLines",
          afterDatasetsDraw(chart: any) {
            const { ctx, chartArea: a, scales } = chart;
            ctx.save();
            bandColors.forEach((_, i) => {
              if (i === 0) return;
              const level = scaleTop - i * scaleStep;
              const dark = colorbarDarkLines.some((d) => Math.abs(d - level) < 0.001);
              const y = scales.bands.getPixelForValue(level);
              ctx.strokeStyle = dark ? "rgba(50,60,50,0.85)" : "rgba(190,190,190,0.75)";
              ctx.lineWidth = dark ? 2 : 1.5;
              ctx.beginPath();
              ctx.moveTo(a.left, y);
              ctx.lineTo(a.right, y);
              ctx.stroke();
            });
            ctx.strokeStyle = "#4a4a4a";
            ctx.lineWidth = 2.5;
            ctx.strokeRect(a.left, a.top, a.right - a.left, a.bottom - a.top);
            ctx.restore();
          },
        },
        titlesPlugin(barRect, [{ text: "Salinity, psu", x: 1252, y: 486, rot: -90, font: `bold 44.5px ${SERIF}` }]),
      ],
    }),
  },
  {
    rect: profileRect,
    config: () => ({
      type: "scatter",
      data: {
        datasets: [
          {
            label: "Salinity profile",
            data: profileSalinity.map((x, i) => ({ x, y: profileDepth[i] })),
            showLine: true,
            pointRadius: 0,
            borderColor: "#111",
            borderWidth: 3,
            clip: false,
          },
        ],
      },
      options: baseOptions(profileRect, profileArea, {
        x: axisScale({ values: profileSalMajor, min: 35.8, max: 36.6, horizontal: true, size: profileRect.y + profileRect.h - profileArea.b, font: { family: SERIF, size: 44 }, padding: 59 }),
        y: axisScale({ values: profileDepthMajor, min: 0, max: 140, horizontal: false, size: profileArea.l - profileRect.x, font: { family: SERIF, size: 44 }, padding: 56, reverse: true }),
      }),
      plugins: [
        axesPlugin({ xMajor: profileSalMajor, xMinor: profileSalMinor, yMajor: profileDepthMajor, yMinor: profileDepthMinor, xLen: [38, 20], yLen: [39, 21], axis: 3.5, tick: 4, color: "#222" }),
        titlesPlugin(profileRect, [
          { text: "Depth, m", x: 1537, y: 458.5, rot: -90, font: `50px ${SERIF}` },
          { text: "Salinity, PSU", x: 1876, y: 998, rot: 0, font: `53px ${SERIF}` },
        ]),
      ],
    }),
  },
  {
    rect: surfaceRect,
    config: () => ({
      type: "scatter",
      data: {
        datasets: [
          {
            label: "Salinity",
            data: surfaceLat.map((x, i) => ({ x, y: surfaceSalinity[i] })),
            showLine: true,
            pointRadius: 0,
            borderColor: "#000",
            borderWidth: 6.5,
            borderJoinStyle: "round",
            tension: 0.2,
            clip: false,
          },
        ],
      },
      options: baseOptions(surfaceRect, surfaceArea, {
        x: axisScale({ values: latMajor, min: 3.5, max: 7, horizontal: true, size: surfaceRect.y + surfaceRect.h - surfaceArea.b, font: tickPlain, padding: 56 }),
        y: axisScale({ values: surfaceMajor, min: 35.8, max: 36.2, horizontal: false, size: surfaceArea.l - surfaceRect.x, font: tickPlain, padding: 54 }),
      }),
      plugins: [
        axesPlugin({ xMajor: latMajor, xMinor: latMinor, yMajor: surfaceMajor, yMinor: surfaceMinor, xLen: [39, 21], yLen: [39, 20], axis: 4, tick: 4.5, color: "#111" }),
        titlesPlugin(surfaceRect, [{ text: "Salinity. PSU", x: 68.4, y: 1225, rot: -90, font: `bold 38.5px ${SERIF}` }]),
      ],
    }),
  },
  {
    rect: turbRect,
    config: () => ({
      type: "scatter",
      data: {
        datasets: [
          {
            label: "Turbidity",
            data: turbidityLat.map((x, i) => ({ x, y: turbidityValue[i] })),
            showLine: true,
            pointRadius: 0,
            borderColor: "#000",
            borderWidth: 5.5,
            borderJoinStyle: "round",
            tension: 0.1,
            clip: false,
          },
        ],
      },
      options: baseOptions(turbRect, turbArea, {
        x: axisScale({ values: latMajor, min: 3.5, max: 7, horizontal: true, size: turbRect.y + turbRect.h - turbArea.b, font: tickPlain, padding: 56 }),
        y: axisScale({ values: turbidityMajor, min: 0, max: 0.05, horizontal: false, size: turbArea.l - turbRect.x, font: tickPlain, padding: 54 }),
      }),
      plugins: [
        axesPlugin({ xMajor: latMajor, xMinor: latMinor, yMajor: turbidityMajor, yMinor: turbidityMinor, xLen: [39, 21], yLen: [39, 20], axis: 4, tick: 4.5, color: "#111" }),
        titlesPlugin(turbRect, [
          { text: "Turbidity, FU", x: 68.4, y: 1709, rot: -90, font: `bold 39px ${SERIF}` },
          { text: "Northern latitude", x: 703.5, y: 2014, rot: 0, font: `bold 39.5px ${SERIF}` },
        ]),
      ],
    }),
  },
];

export default function App() {
  const refs = useRef<(HTMLCanvasElement | null)[]>([]);
  useEffect(() => {
    const charts = panels.map((p, i) => new Chart(refs.current[i] as HTMLCanvasElement, p.config() as any));
    return () => charts.forEach((c) => c.destroy());
  }, []);
  return (
    <div style={{ position: "absolute", left: 0, top: 0, width: 2146, height: 2063, overflow: "hidden", background: "#fff" }}>
      {panels.map((p, i) => (
        <canvas
          key={i}
          ref={(el) => { refs.current[i] = el; }}
          width={p.rect.w}
          height={p.rect.h}
          style={{ position: "absolute", left: p.rect.x, top: p.rect.y, width: p.rect.w, height: p.rect.h, filter: "blur(0.6px)" }}
        />
      ))}
    </div>
  );
}
